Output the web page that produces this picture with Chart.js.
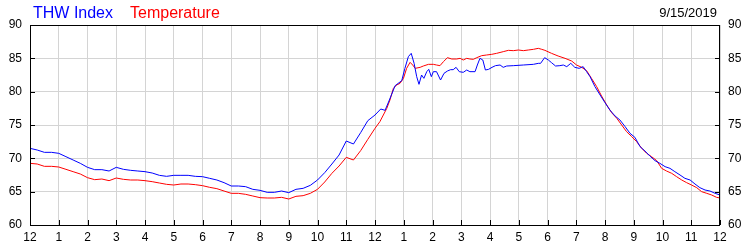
<!DOCTYPE html>
<html>
<head>
<meta charset="utf-8">
<script src="https://cdn.jsdelivr.net/npm/chart.js@4/dist/chart.umd.min.js"></script>
<style>
  html, body { margin: 0; padding: 0; background: #fff; }
</style>
</head>
<body>
<canvas id="weatherChart" width="750" height="250"></canvas>
<script>
// x axis labels, one per hour (0..24)
const hourLabels = ['12','1','2','3','4','5','6','7','8','9','10','11','12','1','2','3','4','5','6','7','8','9','10','11','12'];
const chartDate = '9/15/2019';

// THW Index (blue)
const thwHours = [0,0.25,0.5,0.75,1,1.25,1.5,1.75,2,2.25,2.5,2.75,3,3.25,3.5,3.75,4,4.25,4.5,4.75,5,5.25,5.5,5.75,6,
  6.25,6.5,6.75,7,7.25,7.5,7.75,8,8.25,8.5,8.75,9,9.25,9.5,9.75,10,10.25,10.5,10.75,11,11.25,11.5,11.75,12,
  12.2,12.35,12.5,12.7,12.93,13.04,13.16,13.26,13.36,13.45,13.53,13.62,13.7,13.8,13.87,13.96,14.03,14.14,14.28,14.4,
  14.52,14.63,14.72,14.82,14.93,15.07,15.19,15.3,15.48,15.56,15.65,15.75,15.84,15.95,16.07,16.19,16.35,16.46,16.58,
  16.81,17.16,17.51,17.68,17.76,17.9,18.03,18.14,18.28,18.43,18.55,18.67,18.81,18.95,19.1,19.24,19.36,19.48,19.65,
  19.83,20,20.17,20.35,20.52,20.7,20.87,21.04,21.22,21.39,21.56,21.74,21.91,22.09,22.26,22.43,22.61,22.78,22.96,
  23.13,23.3,23.48,23.65,23.83,24];
const thwValues = [71.5,71.25,70.9,70.9,70.75,70.25,69.75,69.25,68.65,68.3,68.3,68.1,68.65,68.35,68.2,68.1,68.0,67.8,67.45,67.3,67.45,67.45,67.45,67.3,67.25,
  67.0,66.75,66.35,65.85,65.85,65.75,65.35,65.2,64.9,64.9,65.1,64.85,65.35,65.5,65.95,66.75,67.85,69.15,70.5,72.6,72.15,73.85,75.65,76.5,
  77.4,77.2,78.75,80.9,81.65,83.5,85.25,85.75,84.25,82.25,81.1,82.5,82.0,83.0,83.35,82.25,83.0,83.0,81.75,82.75,
  83.1,83.3,83.3,83.65,83.0,82.9,83.25,83.0,83.0,84.0,85.0,84.75,83.25,83.35,83.65,83.9,84.0,83.65,83.85,
  83.9,84.0,84.1,84.25,84.25,85.1,84.75,84.35,83.85,83.9,84.0,83.75,84.25,83.65,83.5,83.75,83.0,82.25,80.75,
  79.5,78.35,77.25,76.35,75.75,74.75,73.75,73.15,71.75,71.1,70.35,69.65,69.25,68.75,68.5,68.0,67.5,67.0,66.75,
  66.15,65.6,65.25,65.1,64.75,64.5];

// Temperature (red)
const tempHours = [0,0.25,0.5,0.75,1,1.25,1.5,1.75,2,2.25,2.5,2.75,3,3.25,3.5,3.75,4,4.25,4.5,4.75,5,5.25,5.5,5.75,6,
  6.25,6.5,6.75,7,7.25,7.5,7.75,8,8.25,8.5,8.75,9,9.25,9.5,9.75,10,10.25,10.5,10.75,11,11.25,11.5,11.75,12,
  12.17,12.29,12.41,12.52,12.64,12.75,12.87,12.99,13.1,13.22,13.31,13.4,13.57,13.68,13.86,14.03,14.14,14.26,14.38,
  14.52,14.67,14.84,14.96,15.07,15.19,15.3,15.42,15.54,15.71,15.88,16.06,16.23,16.46,16.64,16.81,16.99,17.16,17.33,
  17.51,17.68,17.8,17.91,18.14,18.37,18.61,18.84,19.01,19.19,19.36,19.53,19.71,19.88,20.06,20.23,20.41,20.58,20.75,
  20.93,21.1,21.28,21.45,21.62,21.8,21.97,22.14,22.32,22.49,22.67,22.84,23.01,23.19,23.36,23.54,23.71,23.88,24];
const tempValues = [69.25,69.15,68.8,68.8,68.7,68.35,68.0,67.65,67.1,66.8,66.9,66.65,67.05,66.85,66.75,66.75,66.65,66.5,66.3,66.1,66.0,66.15,66.15,66.05,65.9,
  65.65,65.45,65.1,64.75,64.75,64.6,64.35,64.1,64.05,64.05,64.15,63.9,64.3,64.4,64.75,65.35,66.45,67.75,68.85,70.15,69.75,71.15,72.85,74.5,
  75.5,76.5,77.5,78.75,80.5,81.0,81.25,82.0,83.5,84.4,84.0,83.5,83.65,83.85,84.1,84.1,84.0,83.9,84.5,
  85.1,84.9,84.9,85.0,84.75,85.0,84.9,84.85,85.1,85.4,85.5,85.6,85.75,86.0,86.2,86.15,86.25,86.15,86.25,
  86.35,86.5,86.35,86.2,85.75,85.35,85.0,84.6,84.0,83.65,83.15,82.0,80.75,79.35,78.0,76.85,76.0,75.0,74.0,
  73.25,72.5,71.5,70.75,70.25,69.65,68.5,68.1,67.75,67.25,66.75,66.35,66.0,65.6,65.0,64.75,64.5,64.15,64.05];

const toPoints = (xs, ys) => xs.map((x, i) => ({ x: x, y: ys[i] }));
const tickFont = { family: "'Liberation Sans', Arial, sans-serif", size: 12 };

// frame, inward tick marks, legend text and date
const framePlugin = {
  id: 'frame',
  afterDraw(chart) {
    const ctx = chart.ctx;
    const a = chart.chartArea;
    ctx.save();
    ctx.strokeStyle = '#000';
    ctx.lineWidth = 1;
    ctx.strokeRect(Math.round(a.left) + 0.5, Math.round(a.top) + 0.5, Math.round(a.right - a.left) - 1, Math.round(a.bottom - a.top));
    ctx.beginPath();
    chart.scales.x.ticks.forEach(t => {
      const px = Math.round(chart.scales.x.getPixelForValue(t.value)) + 0.5;
      ctx.moveTo(px, a.bottom);
      ctx.lineTo(px, a.bottom - 5);
    });
    chart.scales.y.ticks.forEach(t => {
      const py = Math.round(chart.scales.y.getPixelForValue(t.value)) + 0.5;
      ctx.moveTo(a.left, py);
      ctx.lineTo(a.left + 5, py);
      ctx.moveTo(a.right, py);
      ctx.lineTo(a.right - 5, py);
    });
    ctx.stroke();

    ctx.font = "16px 'Liberation Sans', Arial, sans-serif";
    ctx.textBaseline = 'alphabetic';
    ctx.textAlign = 'left';
    ctx.fillStyle = chart.data.datasets[0].borderColor;
    ctx.fillText(chart.data.datasets[0].label, 33, 18);
    ctx.fillStyle = chart.data.datasets[1].borderColor;
    ctx.fillText(chart.data.datasets[1].label, 130, 18);

    ctx.font = "13px 'Liberation Sans', Arial, sans-serif";
    ctx.fillStyle = '#000';
    ctx.textAlign = 'right';
    ctx.fillText(chartDate, 717, 17);
    ctx.restore();
  }
};

new Chart(document.getElementById('weatherChart'), {
  type: 'line',
  data: {
    datasets: [
      {
        label: 'THW Index',
        data: toPoints(thwHours, thwValues),
        borderColor: '#0000ff',
        borderWidth: 1,
        pointRadius: 0,
        tension: 0
      },
      {
        label: 'Temperature',
        data: toPoints(tempHours, tempValues),
        borderColor: '#ff0000',
        borderWidth: 1,
        pointRadius: 0,
        tension: 0
      }
    ]
  },
  options: {
    responsive: false,
    animation: false,
    events: [],
    layout: { padding: { top: 25, left: 0, right: 0, bottom: 0 } },
    plugins: {
      legend: { display: false },
      tooltip: { enabled: false }
    },
    scales: {
      x: {
        type: 'linear',
        min: 0,
        max: 24,
        afterFit: s => { s.height = 25; },
        border: { display: false },
        grid: { color: '#d4d4d4', drawTicks: false },
        ticks: {
          stepSize: 1,
          padding: 5,
          maxRotation: 0,
          autoSkip: false,
          color: '#000',
          font: tickFont,
          callback: v => hourLabels[v]
        }
      },
      y: {
        position: 'left',
        min: 60,
        max: 90,
        afterFit: s => { s.width = 30; },
        border: { display: false },
        grid: { color: '#d4d4d4', drawTicks: false },
        ticks: { stepSize: 5, padding: 8, color: '#000', font: tickFont }
      },
      y2: {
        position: 'right',
        min: 60,
        max: 90,
        afterFit: s => { s.width = 30; },
        border: { display: false },
        grid: { display: false, drawTicks: false },
        ticks: { stepSize: 5, padding: 8, color: '#000', font: tickFont }
      }
    }
  },
  plugins: [framePlugin]
});
</script>
</body>
</html>
